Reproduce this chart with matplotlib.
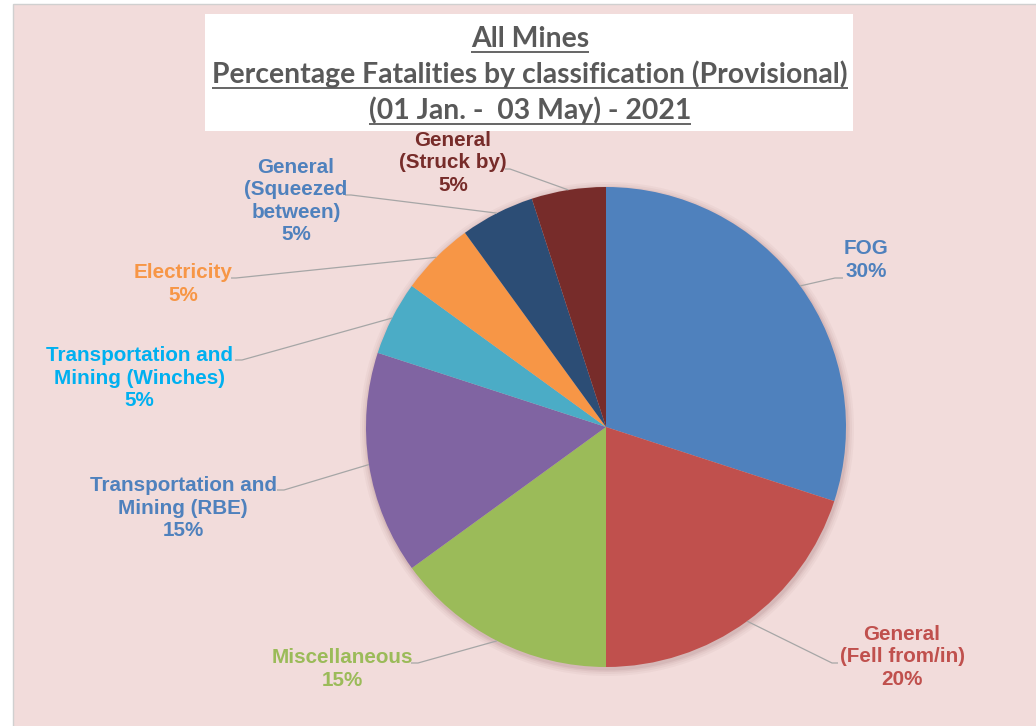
import matplotlib
matplotlib.use("Agg")
import matplotlib.pyplot as plt
import numpy as np
from matplotlib.patches import Rectangle, Circle

# ---------------- data ----------------
categories = ["FOG", "General\n(Fell from/in)", "Miscellaneous",
              "Transportation and\nMining (RBE)", "Transportation and\nMining (Winches)",
              "Electricity", "General\n(Squeezed\nbetween)", "General\n(Struck by)"]
values = [30, 20, 15, 15, 5, 5, 5, 5]
slice_colors = ["#4F81BD", "#C0504D", "#9BBB59", "#8064A2",
                "#4BACC6", "#F79646", "#2C4D75", "#772C2A"]
label_colors = ["#4F81BD", "#C0504D", "#9BBB59", "#4F81BD",
                "#00B0F0", "#F79646", "#4F81BD", "#772C2A"]
title_lines = ["All Mines",
               "Percentage Fatalities by classification (Provisional)",
               "(01 Jan. -  03 May) - 2021"]

# ---------------- layout ----------------
W, H = 1036, 726
fig = plt.figure(figsize=(W / 100, H / 100), dpi=100)
fig.patch.set_facecolor("white")
ax = fig.add_axes([0, 0, 1, 1])
ax.set_xlim(0, W)
ax.set_ylim(0, H)
ax.axis("off")


def Y(y):
    return H - y


# chart area background
ax.add_patch(Rectangle((12.5, -5), W + 10, Y(3.5) + 5, facecolor="#F2DCDB",
                       edgecolor="#D0D0D0", lw=1, zorder=0))
# title box
ax.add_patch(Rectangle((205, Y(131)), 648, 117, facecolor="white",
                       edgecolor="none", zorder=1))

# pie
cx, cy, R = 606, Y(427), 240
for k, a in zip([7, 5, 3, 1.5], [0.05, 0.06, 0.08, 0.10]):
    ax.add_patch(Circle((cx + 1, cy - 2), R + k, facecolor="#8A5A5A",
                        edgecolor="none", alpha=a, zorder=1.5))
wedges, _ = ax.pie(values, colors=slice_colors, startangle=90, counterclock=False,
                   center=(cx, cy), radius=R, frame=True,
                   wedgeprops=dict(linewidth=0, zorder=2))
ax.set_xlim(0, W)
ax.set_ylim(0, H)
ax.set_aspect("auto")
ax.axis("off")

# data labels (positions are layout)
text_pos = [(866, 260), (902, 657), (342, 669), (183, 508),
            (139, 378), (183, 284), (296, 201), (453, 163)]
stubs = [(835, 843, 278), (832, 838, 663), (418, 411, 663), (284, 277, 490),
         (242, 235, 360), (236, 231, 278), (351, 345, 195), (510, 505, 169)]

for w, cat, v, col, (tx, ty), (bx, ex, sy) in zip(wedges, categories, values,
                                                   label_colors, text_pos, stubs):
    mid = np.deg2rad((w.theta1 + w.theta2) / 2)
    axp = cx + R * np.cos(mid)
    ayp = cy + R * np.sin(mid)
    ax.plot([axp, bx, ex], [ayp, Y(sy), Y(sy)], color="#A6A6A6", lw=0.9,
            zorder=3, solid_capstyle="butt")
    ax.text(tx, Y(ty), f"{cat}\n{v}%", ha="center", va="center",
            fontsize=14.9, fontweight="bold", family="Liberation Sans",
            color=col, linespacing=1.24, zorder=4)

# title with underline
baselines = [47, 83, 119]
title_texts = []
for line, b in zip(title_lines, baselines):
    t = ax.text(530, Y(b), line, ha="center", va="baseline", fontsize=20.4,
                fontweight="bold", family="Lato", color="#595959", zorder=5)
    title_texts.append((t, b))
fig.canvas.draw()
for t, b in title_texts:
    bb = t.get_window_extent()
    ax.plot([bb.x0, bb.x1], [Y(b + 4.5), Y(b + 4.5)], color="#595959",
            lw=1.3, zorder=5, solid_capstyle="butt")

fig.savefig("out.png", dpi=100, facecolor="white")
